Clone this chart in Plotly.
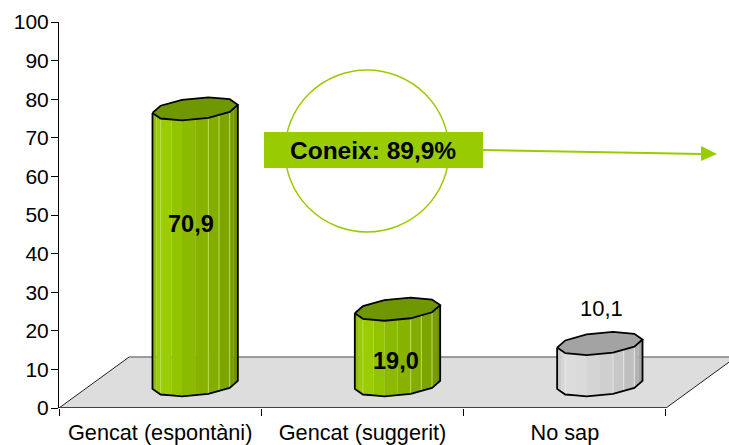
import math
import plotly.graph_objects as go

# ---- data ----
categories = ["Gencat (espontàni)", "Gencat (suggerit)", "No sap"]
values = [70.9, 19.0, 10.1]
value_labels = ["70,9", "19,0", "10,1"]
y_ticks = [0, 10, 20, 30, 40, 50, 60, 70, 80, 90, 100]
callout_text = "Coneix: 89,9%"

# ---- geometry of the page ----
W, H = 729, 445
L, T, R, B = 59, 22, 0, 37
PW, PH = W - L - R, H - T - B
UX = 202.33            # pixels per category
UY = PH / 100          # pixels per value unit
X_MAX = PW / UX

FLOOR_DX = 70 / UX
FLOOR_DY = 13.2
BAR_SHIFT = 0.5 + 35 / UX
BASE_Y = 6.0
TOP_Y = 6.6
AX, AY = 41.5, -1.4    # ellipse half axes, pixels (y down)
BX, BY = 10.0, -11.5
CHAIN = 5              # segments of the visible polygon outline
SUB = 2                # shaded facets per segment
FACETS = CHAIN * SUB
SEAMS = [2, 6, 7, 8]

GREEN = ["#8FC000", "#9ACC00", "#9ACC00", "#93C400", "#8CBA00", "#87B300",
         "#83AD00", "#7DA500", "#769C00", "#6F9300"]
GRAY = ["#CBCBCB", "#D6D6D6", "#DCDCDC", "#DADADA", "#D4D4D4", "#CFCFCF",
        "#C8C8C8", "#BFBFBF", "#B3B3B3", "#A6A6A6"]
TOP_FILL = ["#6F9800", "#6F9800", "#A3A3A3"]
SEAM_COLOR = ["#B9DC55", "#B9DC55", "#E6E6E6"]
SIDE_FILL = [GREEN, GREEN, GRAY]
LABEL_STYLE = [(True, 191, 224, 23.5), (True, 396, 361, 23.5), (False, 601, 308, 22)]


def xd(px):
    return (px - L) / UX


def yd(py):
    return (H - B - py) / UY


def px_paper(px):
    return (px - L) / PW


def py_paper(py):
    return (H - B - py) / PH


def ring(cx, cy, t):
    """Point of the tilted ellipse around a data-space centre."""
    ox = AX * math.cos(t) + BX * math.sin(t)
    oy = AY * math.cos(t) + BY * math.sin(t)
    return cx + ox / UX, cy - oy / UY


T0 = math.atan2(BX, AX)


def chain(cx, cy):
    """Front edge of a cylinder, sampled into facets along the polygon chain."""
    base = [ring(cx, cy, T0 + math.pi + math.pi * k / CHAIN) for k in range(CHAIN + 1)]
    pts = []
    for k in range(CHAIN):
        for s in range(SUB):
            f = s / SUB
            pts.append((base[k][0] * (1 - f) + base[k + 1][0] * f,
                        base[k][1] * (1 - f) + base[k + 1][1] * f))
    pts.append(base[-1])
    return pts


fig = go.Figure()


def poly(xs, ys, fill, line=None, width=0):
    fig.add_trace(go.Scatter(
        x=xs, y=ys, mode="lines", fill="toself" if fill else None,
        fillcolor=fill, line=dict(color=line or "rgba(0,0,0,0)", width=width),
        hoverinfo="skip", showlegend=False, xaxis="x", yaxis="y"))


# floor
FLOOR_END = 3 + FLOOR_DX
poly([0, FLOOR_DX, FLOOR_END, 3, 0], [0, FLOOR_DY, FLOOR_DY, 0, 0], "#DDDDDD")
poly([FLOOR_DX, FLOOR_END], [FLOOR_DY, FLOOR_DY], None, "#808080", 1.5)
poly([0, FLOOR_DX], [0, FLOOR_DY], None, "#222222", 1)
poly([3, FLOOR_END], [0, FLOOR_DY], None, "#222222", 1)

# cylinders
for i, v in enumerate(values):
    cx = i + BAR_SHIFT
    top = v + TOP_Y
    low = chain(cx, BASE_Y)
    up = chain(cx, top)
    for k in range(FACETS):
        poly([low[k][0], low[k + 1][0], up[k + 1][0], up[k][0], low[k][0]],
             [low[k][1], low[k + 1][1], up[k + 1][1], up[k][1], low[k][1]],
             SIDE_FILL[i][k])
    for k in SEAMS:
        poly([low[k][0], up[k][0]], [low[k][1], up[k][1]], None, SEAM_COLOR[i], 1)
    full = [T0 + math.pi + 2 * math.pi * k / (2 * CHAIN) for k in range(2 * CHAIN + 1)]
    cap = [ring(cx, top, t) for t in full]
    poly([p[0] for p in cap], [p[1] for p in cap], TOP_FILL[i], "#000000", 1.8)
    outline = [up[0]] + low + [up[-1]]
    poly([p[0] for p in outline], [p[1] for p in outline], None, "#000000", 1.8)

# value labels
for txt, (bold, px, py, fs) in zip(value_labels, LABEL_STYLE):
    fig.add_annotation(x=xd(px), y=yd(py), xref="x", yref="y", xanchor="center", yanchor="middle",
                       text=f"<b>{txt}</b>" if bold else txt, showarrow=False,
                       font=dict(family="Liberation Sans", size=fs, color="#000000"))

# call-out: circle, arrow, box, text
GR = "#99CC00"
fig.add_shape(type="circle", xref="paper", yref="paper",
              x0=px_paper(285), x1=px_paper(449), y0=py_paper(232), y1=py_paper(70),
              line=dict(color=GR, width=1.5), fillcolor="rgba(0,0,0,0)")
fig.add_shape(type="line", xref="paper", yref="paper",
              x0=px_paper(483), y0=py_paper(150), x1=px_paper(702), y1=py_paper(154),
              line=dict(color=GR, width=2))
fig.add_shape(type="path", xref="paper", yref="paper", fillcolor=GR, line=dict(width=0),
              path=f"M {px_paper(701)} {py_paper(146)} L {px_paper(717)} {py_paper(154)} "
                   f"L {px_paper(701)} {py_paper(161)} Z")
fig.add_shape(type="rect", xref="paper", yref="paper",
              x0=px_paper(264), x1=px_paper(483), y0=py_paper(168), y1=py_paper(132),
              fillcolor=GR, line=dict(width=0))
fig.add_annotation(x=px_paper(373), y=py_paper(150), xref="paper", yref="paper",
                   xanchor="center", yanchor="middle",
                   text=f"<b>{callout_text}</b>", showarrow=False,
                   font=dict(family="Liberation Sans", size=24.5, color="#000000"))

fig.update_layout(
    width=W, height=H, autosize=False,
    margin=dict(l=L, r=R, t=T, b=B, pad=0),
    paper_bgcolor="#FFFFFF", plot_bgcolor="#FFFFFF", showlegend=False,
    font=dict(family="Liberation Sans", color="#000000"),
    xaxis=dict(range=[0, X_MAX], tickvals=[0, 1, 2, 3], ticktext=["", "", "", ""],
               ticks="outside", ticklen=7, tickcolor="#000000", tickwidth=1,
               showgrid=False, zeroline=False, showline=False, layer="above traces"),
    xaxis2=dict(range=[0, X_MAX], overlaying="x", side="bottom", anchor="y",
                tickvals=[0.5, 1.5, 2.5], ticktext=categories, ticks="",
                tickfont=dict(family="Liberation Sans", size=21.7, color="#000000"),
                showgrid=False, zeroline=False, showline=False, ticklabelstandoff=9),
    yaxis=dict(range=[0, 100], tickvals=y_ticks, ticks="outside", ticklen=7,
               tickcolor="#000000", tickwidth=1, showgrid=False, zeroline=False,
               showline=True, linecolor="#000000", linewidth=1, ticklabelstandoff=-2,
               tickfont=dict(family="Liberation Sans", size=21, color="#000000")),
)
# base axis line
fig.add_shape(type="line", xref="x", yref="y", x0=0, y0=0, x1=3, y1=0,
              line=dict(color="#404040", width=2))
# invisible trace so the second x axis is rendered
fig.add_trace(go.Scatter(x=[0.5, 1.5, 2.5], y=[0, 0, 0], xaxis="x2", yaxis="y", mode="markers",
                         marker=dict(opacity=0), hoverinfo="skip", showlegend=False))

fig.write_html("out.html", config={"displayModeBar": False},
               post_script="document.body.style.margin='0';document.body.style.overflow='hidden';")
